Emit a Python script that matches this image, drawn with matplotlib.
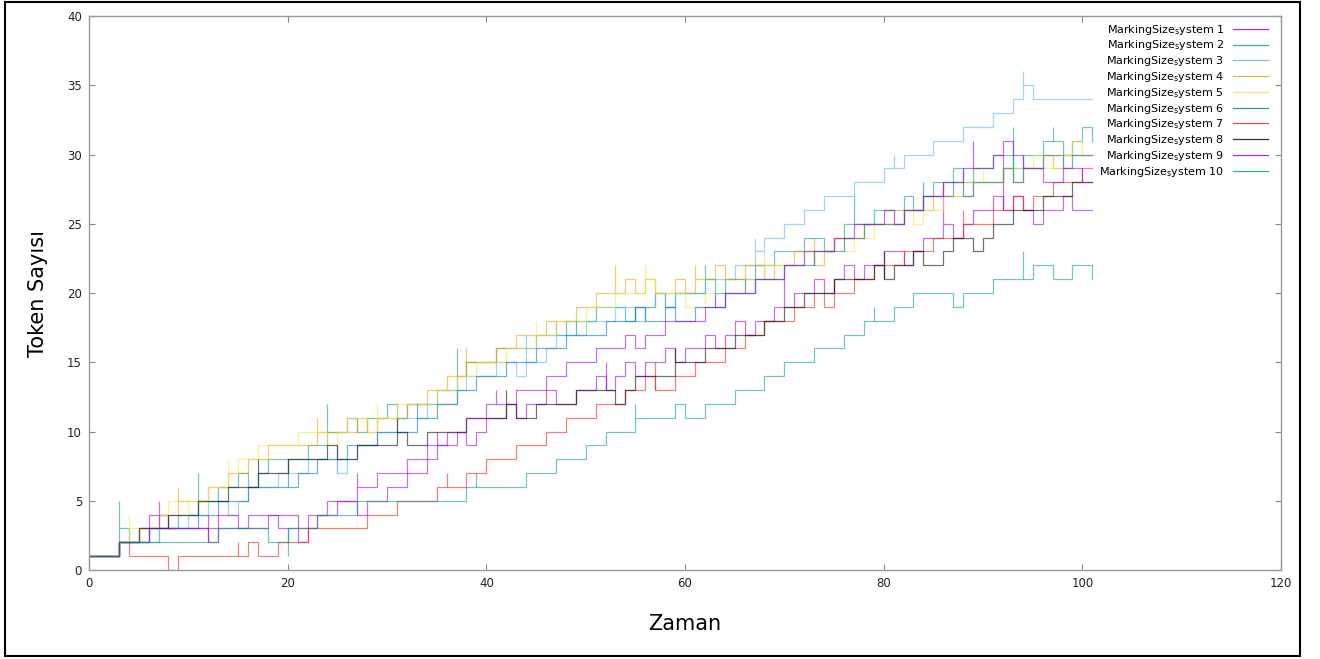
'''Token counts over time for ten systems, drawn as step lines'''

import numpy as np
import matplotlib
matplotlib.use("Agg")
import matplotlib.pyplot as plt
from matplotlib.patches import Rectangle


time = list(range(0, 102))

system_1 = [1,1,1,2,2,3,4,4,3,3, 3,3,2,3,3,3,3,3,4,3, 3,2,3,4,4,5,5,4,5,5,
            6,6,7,7,8,9,9,10,9,10, 11,11,12,11,12,12,13,12,12,13,
            13,14,13,14,15,14,15,15,16,15, 16,16,17,16,17,18,17,18,18,19,
            19,20,20,21,20,21,22,21,22,22, 23,23,22,23,24,24,25,24,25,26,
            26,27,26,27,26,25,26,26,27,26, 26,26]
system_2 = [1,1,1,3,2,2,2,3,3,4, 4,5,5,6,6,7,6,7,8,8, 8,8,9,9,10,10,11,10,11,11,
            12,11,12,12,12,13,13,14,15,15, 15,16,16,16,16,17,17,17,18,18,
            18,19,19,19,18,19,19,20,19,20, 20,20,21,20,21,21,21,22,22,23,
            23,23,24,24,23,24,25,25,25,26, 26,26,27,26,27,28,28,29,28,29,
            29,30,30,29,30,30,31,31,30,31, 32,31]
system_3 = [1,1,1,2,2,2,3,3,3,3, 4,4,5,5,4,5,6,6,6,7, 7,7,8,8,8,7,8,9,9,10,
            10,11,11,11,12,12,12,13,14,14, 14,15,15,14,15,15,16,17,17,17,
            18,18,18,19,19,18,19,20,19,20, 20,20,21,21,21,22,22,23,24,24,
            25,25,26,26,27,27,27,28,28,28, 29,29,30,30,30,31,31,31,32,32,
            32,33,33,34,35,34,34,34,34,34, 34,34]
system_4 = [1,1,1,2,2,3,3,4,4,5, 5,5,6,6,7,7,8,8,9,9, 9,9,9,10,10,10,10,11,10,11,
            11,11,12,12,13,13,14,14,15,15, 15,16,16,17,17,17,18,18,18,19,
            19,20,20,20,21,20,21,20,20,21, 20,21,21,22,21,21,22,22,21,22,
            22,23,23,22,23,24,24,24,25,25, 25,25,26,26,26,27,27,27,27,28,
            28,28,29,28,29,29,30,29,30,30, 30,30]
system_5 = [1,1,1,2,3,2,3,4,5,4, 5,5,6,6,7,8,8,9,9,9, 9,10,10,10,9,10,11,11,10,11,
            11,12,12,12,12,13,13,14,14,15, 15,15,16,16,16,17,17,18,18,18,
            19,19,19,20,20,20,21,20,20,20, 19,19,20,19,20,20,21,21,22,22,
            22,22,23,23,23,24,23,24,24,25, 25,26,26,25,26,26,27,27,28,28,
            28,28,29,29,29,30,29,30,30,31, 30,30]
system_6 = [1,1,1,2,2,2,3,3,3,3, 3,4,4,5,5,5,6,6,6,6, 6,7,7,8,8,8,9,9,9,10,
            10,10,10,11,11,12,12,13,13,14, 14,14,15,15,15,16,16,16,17,17,
            17,17,18,18,18,19,18,18,19,18, 18,19,19,19,20,20,20,21,21,21,
            22,22,22,23,23,23,24,24,25,25, 25,25,26,26,27,27,27,28,27,28,
            28,28,29,28,29,29,30,30,29,30, 30,30]
system_7 = [1,1,1,2,1,1,1,1,0,1, 1,1,1,1,1,1,2,1,1,2, 2,2,3,3,3,3,3,3,4,4,
            4,5,5,5,5,6,6,6,7,7, 8,8,8,9,9,9,10,10,11,11,
            11,12,12,12,13,13,14,13,13,14, 14,15,15,15,16,16,17,17,18,18,
            18,19,19,20,19,20,20,21,21,22, 22,22,23,23,23,24,24,24,25,25,
            25,26,26,27,26,27,27,28,28,28, 29,29]
system_8 = [1,1,1,2,2,3,3,3,4,4, 4,5,5,5,6,6,6,7,7,7, 8,8,8,8,9,8,8,9,9,9,
            9,10,9,9,10,10,10,10,11,11, 11,11,12,11,11,12,12,12,12,13,
            13,13,13,12,13,14,14,14,14,15, 15,15,16,16,16,17,17,17,18,18,
            19,19,20,20,20,21,21,21,21,22, 21,22,22,23,22,22,23,24,24,23,
            24,25,25,26,26,26,27,27,27,28, 28,28]
system_9 = [1,1,1,2,2,2,3,3,3,3, 3,3,3,4,4,3,4,4,4,4, 4,3,4,4,5,5,5,6,6,7,
            7,7,8,8,9,9,10,10,11,11, 12,12,12,13,13,13,14,14,15,15,
            15,16,16,16,17,16,17,17,18,18, 18,18,19,19,20,20,20,21,21,21,
            22,22,23,23,23,24,24,25,25,25, 26,25,26,26,27,27,28,28,29,29,
            29,30,31,30,29,29,28,28,29,29, 28,28]
system_10 = [1,1,1,2,2,2,2,2,2,2, 2,2,2,3,3,3,3,3,2,2, 3,3,3,4,4,4,4,5,5,5,
             5,5,5,5,5,5,5,5,6,6, 6,6,6,6,7,7,7,8,8,8,
             9,9,10,10,10,11,11,11,11,12, 11,11,12,12,12,13,13,13,14,14,
             15,15,15,16,16,16,17,17,18,18, 18,19,19,20,20,20,20,19,20,20,
             20,21,21,21,21,22,22,21,21,22, 22,21]

# short up/down blips at a single time (x, value reached)
spikes_1 = [(12, 4), (35, 10), (52, 15), (70, 21), (86, 28), (92, 30)]
spikes_2 = [(3, 5), (11, 7), (24, 12), (37, 16), (47, 18), (62, 22), (77, 27), (93, 32), (97, 32)]
spikes_3 = [(25, 9), (44, 17), (67, 24), (81, 30), (94, 36)]
spikes_4 = [(9, 6), (23, 11), (38, 16), (53, 22), (61, 22), (73, 24)]
spikes_5 = [(4, 4), (14, 8), (29, 12), (45, 18), (56, 22), (68, 23), (90, 29)]
spikes_6 = [(20, 8), (33, 12), (49, 18), (66, 21), (84, 28)]
spikes_7 = [(15, 2), (36, 7), (57, 15), (75, 21), (88, 26)]
spikes_8 = [(17, 8), (31, 11), (42, 13), (59, 16), (80, 23)]
spikes_9 = [(7, 5), (27, 7), (41, 13), (63, 20), (89, 31)]
spikes_10 = [(20, 1), (39, 7), (55, 12), (79, 19), (94, 23)]

series = [system_1, system_2, system_3, system_4, system_5,
          system_6, system_7, system_8, system_9, system_10]
spikes = [spikes_1, spikes_2, spikes_3, spikes_4, spikes_5,
          spikes_6, spikes_7, spikes_8, spikes_9, spikes_10]
colors = ["#9400d3", "#009e73", "#56b4e9", "#e69f00", "#f0e442",
          "#0072b2", "#e51e10", "#000000", "#9400d3", "#009e73"]


def plot_tokens():
    fig = plt.figure(figsize=(13.2, 6.59), dpi=100)
    ax = fig.add_axes([0.0674, 0.135, 0.9031, 0.8407])

    for i, (vals, sp, c) in enumerate(zip(series, spikes, colors)):
        ax.step(time, vals, where="post", color=c, lw=0.9, alpha=0.55,
                label=r"MarkingSize$_\mathregular{s}$ystem %d" % (i + 1))
        xs = [p[0] for p in sp]
        ax.vlines(xs, [vals[x] for x in xs], [p[1] for p in sp],
                  color=c, lw=0.9, alpha=0.55)

    ax.set_xlim(0, 120)
    ax.set_ylim(0, 40)
    ax.set_xticks(range(0, 121, 20))
    ax.set_yticks(range(0, 41, 5))
    ax.tick_params(direction="in", length=4, width=0.8, color="#888888",
                   labelsize=8.5, labelcolor="#222222", top=True, right=True, pad=5)
    for s in ax.spines.values():
        s.set_color("#999999")
        s.set_linewidth(1.0)

    ax.set_xlabel("Zaman", fontsize=15, labelpad=17)
    ax.set_ylabel("Token Sayısı", fontsize=15, labelpad=14)

    leg = ax.legend(loc="upper right", bbox_to_anchor=(1.0, 1.012),
                    frameon=False, fontsize=8, markerfirst=False,
                    handlelength=3.1, handletextpad=0.8,
                    labelspacing=0.16, borderaxespad=0.8)
    for line in leg.get_lines():
        line.set_alpha(0.8)

    # black frame round the whole picture
    fig.patches.append(Rectangle((0.004, 0.005), 0.981, 0.992,
                                 transform=fig.transFigure, fill=False,
                                 edgecolor="black", lw=1.5))

    plt.savefig("out.png", dpi=100)


if __name__ == "__main__":
    plot_tokens()
